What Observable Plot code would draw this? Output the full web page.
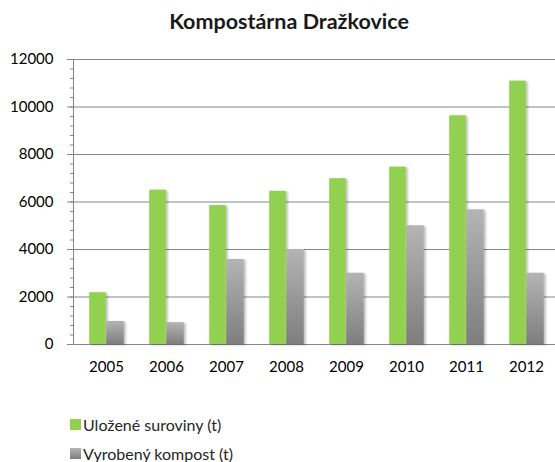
<!DOCTYPE html>
<html><head><meta charset="utf-8">
<script src="https://cdn.jsdelivr.net/npm/d3@7"></script>
<script src="https://cdn.jsdelivr.net/npm/@observablehq/plot@0.6"></script>
<style>
body{margin:0;background:#fff;font-family:Lato,"Open Sans",sans-serif;}
#wrap{position:relative;width:555px;height:462px;overflow:hidden;}
#title{position:absolute;left:0;width:578px;top:8px;text-align:center;font-weight:bold;font-size:21.5px;color:#1a1a1a;}
#legend{position:absolute;left:70px;top:410px;font-size:16px;color:#262626;}
.item{display:flex;align-items:center;height:29px;}
.sw{width:11px;height:11px;margin-right:2px;}
#chart{position:absolute;left:0;top:0;}
</style>
</head><body>
<div id="wrap">
  <div id="chart"></div>
  <div id="title">Kompostárna Dražkovice</div>
  <div id="legend"></div>
</div>
<script>
const years = ["2005","2006","2007","2008","2009","2010","2011","2012"];
const ulozene = [2180, 6500, 5850, 6450, 6980, 7470, 9630, 11090];
const vyrobeny = [970, 920, 3580, 4000, 3000, 5000, 5670, 3000];
const yTicks = [0, 2000, 4000, 6000, 8000, 10000, 12000];
const yMinorTicks = d3.range(0, 12001, 400);
const seriesNames = ["Uložené suroviny (t)", "Vyrobený kompost (t)"];
const seriesColors = ["#92d050", "url(#grayGrad)"];

const data = years.map((year, i) => ({year, ulozene: ulozene[i], vyrobeny: vyrobeny[i]}));

const plot = Plot.plot({
  width: 555,
  height: 462,
  marginLeft: 73,
  marginRight: 0,
  marginTop: 59,
  marginBottom: 118,
  style: {fontFamily: "Lato, 'Open Sans', sans-serif", color: "#000", background: "transparent"},
  x: {domain: years, range: [74, 557], padding: 0, axis: null},
  y: {domain: [0, 12000], axis: null},
  marks: [
    Plot.ruleY(yTicks, {stroke: "#868686", strokeWidth: 1}),
    Plot.axisY(yMinorTicks, {tickSize: 3, tickFormat: () => "", stroke: "#868686", label: null}),
    Plot.axisY(yTicks, {tickSize: 6, tickPadding: 14, tickFormat: d3.format("d"), fontSize: 15, stroke: "#868686", label: null}),
    Plot.barY(data, {x: "year", y: "ulozene", fill: seriesColors[0], insetLeft: 13.2, insetRight: 30.2}),
    Plot.barY(data, {x: "year", y: "vyrobeny", fill: seriesColors[1], insetLeft: 30.2, insetRight: 12.2}),
    Plot.axisX({tickSize: 0, tickPadding: 17, fontSize: 15, label: null})
  ]
});

const svg = d3.select(plot);
svg.insert("defs", ":first-child").html(
  '<linearGradient id="grayGrad" x1="0" y1="0" x2="0" y2="1">' +
  '<stop offset="0" stop-color="#b4b4b4"/><stop offset="1" stop-color="#7e7e7e"/></linearGradient>' +
  '<filter id="shadow" x="-30%" y="-10%" width="160%" height="120%">' +
  '<feDropShadow dx="2" dy="1" stdDeviation="1.2" flood-color="#000" flood-opacity="0.25"/></filter>'
);
svg.selectAll('g[aria-label="bar"]').attr("filter", "url(#shadow)");
// vertical value axis line
const ys = plot.scale("y");
svg.append("line")
  .attr("x1", 73.5).attr("x2", 73.5)
  .attr("y1", ys.range[0]).attr("y2", ys.range[1])
  .attr("stroke", "#868686");

document.getElementById("chart").appendChild(plot);

const legend = d3.select("#legend");
seriesNames.forEach((name, i) => {
  const item = legend.append("div").attr("class", "item");
  item.append("div").attr("class", "sw").style("background", i === 0 ? seriesColors[0] : "linear-gradient(#b4b4b4,#7e7e7e)");
  item.append("span").text(name);
});
</script>
</body></html>
